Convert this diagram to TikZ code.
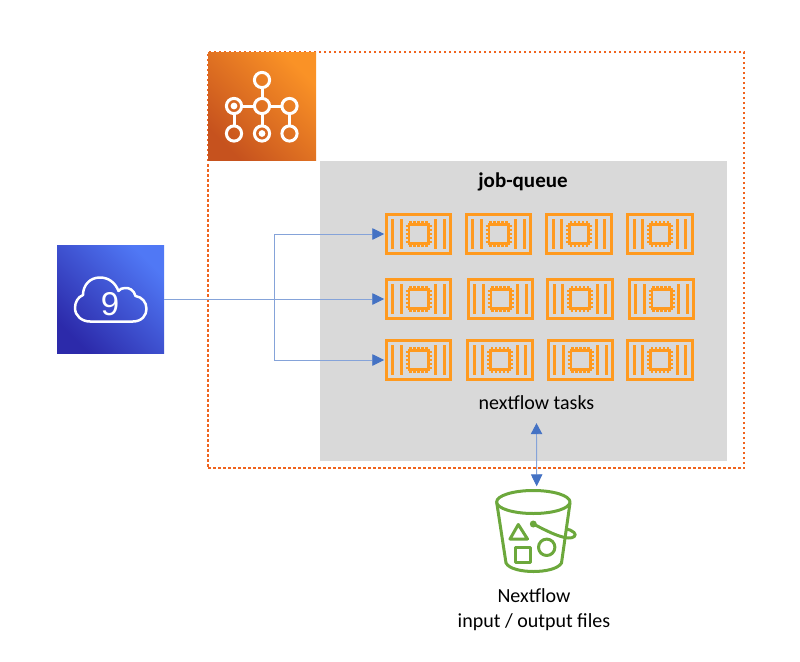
\documentclass[tikz,border=0pt]{standalone}
\usepackage{fontspec}
\setmainfont{Carlito}
\newfontfamily\ninefont{Liberation Sans}
\usetikzlibrary{arrows.meta}
\definecolor{boxorange}{HTML}{F0641E}
\definecolor{chiporange}{HTML}{FF9A1F}
\definecolor{linkblue}{HTML}{4472C4}
\definecolor{grayq}{HTML}{D9D9D9}
\definecolor{bucketgreen}{HTML}{6CA83C}
\definecolor{orangedark}{HTML}{C6521E}
\definecolor{orangelight}{HTML}{FA9226}
\definecolor{bluedark}{HTML}{2C2AAA}
\definecolor{bluelight}{HTML}{5078F5}
\tikzset{
  chipbox/.style={draw=chiporange,line width=3pt,minimum width=64.5pt,minimum height=39.5pt,inner sep=0pt,outer sep=0pt},
  chipline/.style={draw=chiporange,line width=2.8pt},
  chippin/.style={draw=chiporange,line width=2.2pt},
  link/.style={draw=linkblue!65,line width=0.9pt},
  tip/.style={-{Triangle[length=12pt,width=11.5pt,fill=linkblue,color=linkblue]},shorten >=2pt},
  dbltip/.style={{Triangle[length=11pt,width=11.5pt,fill=linkblue,color=linkblue]}-{Triangle[length=12pt,width=11.5pt,fill=linkblue,color=linkblue]}},
  hub/.style={draw=white,line width=3pt},
  hubdot/.style={fill=white,draw=none},
  bucketline/.style={draw=bucketgreen,line width=3pt,line join=round},
  textlabel/.style={font=\fontsize{20}{25}\selectfont,text=black,align=center,inner sep=0pt},
  batchicon/.style={minimum width=108pt,minimum height=107pt,inner sep=0pt,left color=orangelight,right color=orangedark,shading angle=-45},
  cloudicon/.style={minimum width=107pt,minimum height=108pt,inner sep=0pt,left color=bluelight,right color=bluedark,shading angle=-45}
}
\newcommand{\chipunit}[3]{%
  \node[chipbox] (#1) at (#2,#3) {};
  \begin{scope}[shift={(#2,#3)}]
    \foreach \xx in {-25.7,-17.3,17.3,25.7}{\draw[chipline] (\xx,-15) -- (\xx,15);}
    \foreach \pp in {-8,-4,0,4,8}{
      \draw[chippin] (\pp,-13) -- (\pp,-9);
      \draw[chippin] (\pp,13) -- (\pp,9);
      \draw[chippin] (-13,\pp) -- (-9,\pp);
      \draw[chippin] (13,\pp) -- (9,\pp);
    }
    \draw[chipline] (-9.6,-9.6) rectangle (9.6,9.6);
  \end{scope}%
}
\begin{document}
\begin{tikzpicture}[x=1pt,y=-1pt]
\useasboundingbox (0,0) rectangle (800,661);
% group frame
\node[draw=boxorange,line width=2.6pt,dash pattern=on 2.5pt off 2.5pt,minimum width=536pt,minimum height=416pt,inner sep=0pt] (group) at (476,260) {};
% queue panel
\node[fill=grayq,minimum width=407pt,minimum height=300pt,inner sep=0pt] (queue) at (523.5,311) {};
% orange icon
\node[batchicon] (batch) at (262,106.5) {};
\draw[hub] (262,89) -- (262,97) (243,106) -- (253,106) (271,106) -- (280.5,106)
  (234,115) -- (234,125) (262,115) -- (262,125) (289.5,115) -- (289.5,125);
\foreach \cx/\cy in {262/80,234/106,262/106,289.5/106,234/133.5,262/133.5,289.5/133.5}{\draw[hub] (\cx,\cy) circle (7.6);}
\fill[hubdot] (234,106) circle (3.4) (262,133.5) circle (3.4);
% cloud icon
\node[cloudicon] (cloud) at (110.5,299) {};
\draw[white,line width=2.5pt,line join=round]
  (90,321.5) -- (133,321.5)
  .. controls (142,321.5) and (146.5,315) .. (146.5,309)
  .. controls (146.5,302) and (142,297) .. (135.5,296)
  .. controls (134,290) and (129,287.5) .. (125,288)
  .. controls (122,288) and (120,289) .. (118.5,291)
  .. controls (115,282) and (108,277.5) .. (100,277.5)
  .. controls (90,277.5) and (83,285) .. (83,295)
  .. controls (78,297) and (75,302) .. (75,308)
  .. controls (75,316) and (82,321.5) .. (90,321.5) -- cycle;
\node[font=\ninefont\fontsize{33}{33}\selectfont,text=white,inner sep=0pt] (nine) at (110,304) {9};
% chips
\chipunit{a1}{418.5}{234}\chipunit{a2}{498.5}{234}\chipunit{a3}{579}{234}\chipunit{a4}{660}{234}
\chipunit{b1}{418.5}{299}\chipunit{b2}{500.5}{299}\chipunit{b3}{580}{299}\chipunit{b4}{661.5}{299}
\chipunit{c1}{418.5}{360}\chipunit{c2}{500}{360}\chipunit{c3}{580.5}{360}\chipunit{c4}{660}{360}
% labels
\node[textlabel,font=\bfseries\fontsize{21}{25}\selectfont] (jq) at (523,182) {job-queue};
\node[textlabel,minimum height=40pt] (tasks) at (536.5,403) {nextflow tasks};
\node[textlabel] (files) at (534,609.5) {Nextflow\\input / output files};
% bucket
\node[minimum width=74pt,minimum height=88pt,inner sep=0pt] (bucket) at (536.7,530.5) {};
\draw[bucketline] (533.3,502) ellipse (36.7 and 11.5);
\draw[bucketline] (496.8,503) -- (506,563) .. controls (509,569) and (522,571.5) .. (533.5,571.5) .. controls (545,571.5) and (558,569) .. (561.5,563) -- (570,503);
\fill[bucketgreen] (533.3,524) circle (3.5);
\draw[bucketline] (533.3,524) .. controls (545,530) and (558,537) .. (568,538) .. controls (574,538.5) and (577,535) .. (574,532.5) .. controls (572,530.5) and (569,529.5) .. (566.5,529);
\draw[bucketline] (518.3,524.5) -- (510,539) -- (527.5,539) -- cycle;
\draw[bucketline] (515,547.5) rectangle (530.5,562.5);
\draw[bucketline] (546.7,547.3) circle (8.2);
% connectors
\coordinate (junction) at (274,299);
\draw[link] (cloud.east) -- (junction);
\draw[link,tip] (junction) -- (b1.west);
\draw[link,tip] (junction) |- (a1.west);
\draw[link,tip] (junction) |- (c1.west);
\draw[link,dbltip] (tasks.south) -- (bucket.north);
\end{tikzpicture}
\end{document}
